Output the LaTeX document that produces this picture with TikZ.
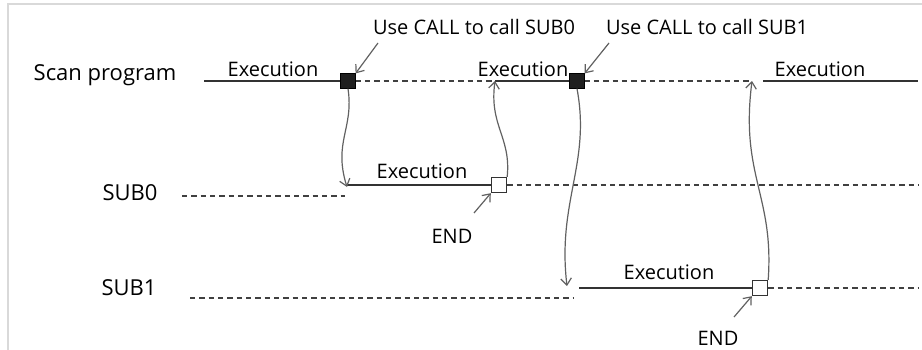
\documentclass[tikz,border=0pt]{standalone}
\usepackage{fontspec}
\setmainfont{Open Sans}
\usetikzlibrary{arrows.meta}

\begin{document}
\begin{tikzpicture}[x=0.75pt,y=-0.75pt,
  run/.style={draw=black!80,line width=1pt},
  idle/.style={draw=black!75,line width=1pt,dash pattern=on 4pt off 3pt},
  jump/.style={draw=black!62,line width=0.9pt,-{Straight Barb[length=5pt,width=8pt]}},
  callbox/.style={draw=black,fill=black!88,minimum size=11pt,inner sep=0pt},
  endbox/.style={draw=black!80,fill=white,line width=0.8pt,minimum size=11.5pt,inner sep=0pt},
  lbl/.style={font=\fontsize{16.5}{19}\selectfont},
  txt/.style={font=\fontsize{15}{18}\selectfont}]
\useasboundingbox (0,0) rectangle (922,350);
\draw[black!15,line width=1.5pt] (8,350) -- (8,4) -- (922,4);

\node[lbl] (scan) at (105,75) {Scan program};
\node[lbl] (sub0) at (130,193) {SUB0};
\node[lbl] (sub1) at (129,288) {SUB1};

\node[callbox] (c0) at (348,81) {};
\node[callbox] (c1) at (577,81) {};
\node[endbox] (e0) at (499,185) {};
\node[endbox] (e1) at (760,288) {};

\coordinate (m0) at (204,81);
\coordinate (m1) at (495,81);
\coordinate (m2) at (752,81);
\coordinate (m3) at (763,81);
\coordinate (m4) at (918,81);
\coordinate (a0) at (182,196);
\coordinate (a1) at (345,196);
\coordinate (a2) at (347,185);
\coordinate (a3) at (918,185);
\coordinate (b0) at (190,298);
\coordinate (b1) at (574,298);
\coordinate (b2) at (579,288);
\coordinate (b3) at (918,288);

\draw[run] (m0) -- (c0.west);
\draw[idle] (c0.east) -- (m1);
\draw[run] (m1) -- (c1.west);
\draw[idle] (c1.east) -- (m2);
\draw[run] (m3) -- (m4);
\draw[idle] (a0) -- (a1);
\draw[run] (a2) -- (e0.west);
\draw[idle] (e0.east) -- (a3);
\draw[idle] (b0) -- (b1);
\draw[run] (b2) -- (e1.west);
\draw[idle] (e1.east) -- (b3);

\node[txt] (x0) at (273,69) {Execution};
\node[txt] (x1) at (523,69) {Execution};
\node[txt] (x2) at (820,69) {Execution};
\node[txt] (x3) at (422,171) {Execution};
\node[txt] (x4) at (669,272) {Execution};

\node[txt] (u0) at (474,27) {Use CALL to call SUB0};
\node[txt] (u1) at (707,27) {Use CALL to call SUB1};
\node[txt] (n0) at (452,236) {END};
\node[txt] (n1) at (718,338) {END};

\coordinate (p0) at (378,43);
\coordinate (p1) at (609,43);
\coordinate (q0) at (474,213);
\coordinate (q1) at (734,317);
\draw[jump] (p0) -- (c0.north east);
\draw[jump] (p1) -- (c1.north east);
\draw[jump] (q0) -- (e0.south west);
\draw[jump] (q1) -- (e1.south west);

\draw[jump] (c0.south) .. controls +(6,40) and +(-14,-45) .. ([yshift=-1.5]a2);
\draw[jump] (e0.north east) .. controls +(4,-40) and +(-6,45) .. (m1);
\draw[jump] (c1.south) .. controls +(14,75) and +(-10,-85) .. ([shift={(-12,-2)}]b2);
\draw[jump] (e1.north east) .. controls +(6,-85) and +(-12,95) .. (m2);
\end{tikzpicture}
\end{document}
